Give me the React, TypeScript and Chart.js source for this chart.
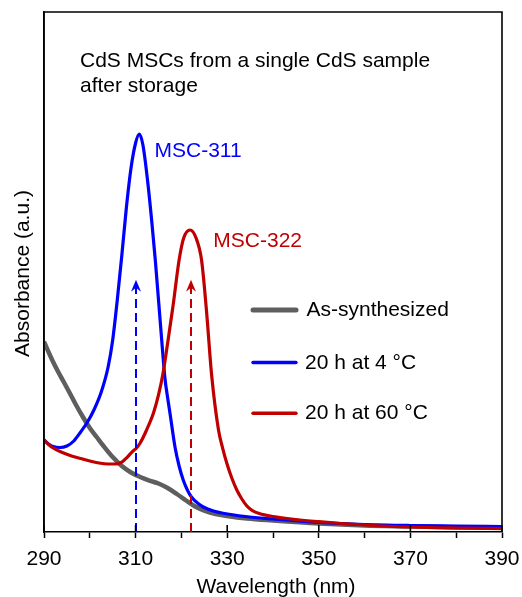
import React, { useEffect, useRef } from "react";
import { Chart, registerables } from "chart.js";

Chart.register(...registerables);

const FONT = "'Liberation Sans', Arial, Helvetica, sans-serif";

// ---- data ----
const SERIES_LABELS = ["As-synthesized", "20 h at 4 °C", "20 h at 60 °C"];
const SERIES_COLORS = ["#5e5e5e", "#0000ff", "#c00000"];
const SERIES_WIDTHS = [4.5, 3.2, 3.2];

const asSynthWl = [290, 291, 292, 293, 294.2, 295.5, 297, 298.5, 300, 301.5, 303, 305, 307, 309, 311, 313, 315, 317, 319, 321, 323, 325, 327.5, 330, 334.3, 340, 350, 360, 370, 380, 390];
const asSynthAbs = [36.6, 34.6, 32.69, 30.96, 29.04, 26.92, 24.42, 22.12, 20.0, 18.27, 16.54, 14.42, 12.69, 11.44, 10.58, 9.9, 9.33, 8.46, 7.31, 6.06, 4.9, 4.13, 3.46, 3.08, 2.6, 2.21, 1.63, 1.25, 1.06, 0.87, 0.77];

const cold4Wl = [290, 291, 292, 293.5, 295, 296.5, 298, 299.5, 301, 302.5, 304, 305, 306, 307, 308, 309, 310, 310.8, 311.6, 312.6, 313.5, 314.3, 315, 315.7, 316.4, 317, 317.5, 318.6, 319.5, 320.4, 321.3, 322.2, 323.5, 324.8, 327, 329.1, 334, 340, 350, 360, 370, 380, 390];
const cold4Abs = [17.69, 16.92, 16.44, 16.25, 16.54, 17.5, 19.23, 21.15, 23.65, 26.92, 31.73, 36.92, 44.62, 53.27, 62.5, 70.0, 74.81, 76.54, 74.42, 67.69, 60.0, 52.31, 44.62, 36.92, 29.62, 25.77, 22.88, 16.35, 12.69, 10.0, 8.08, 6.73, 5.58, 4.81, 4.04, 3.6, 2.98, 2.5, 1.83, 1.44, 1.25, 1.15, 1.06];

const warm60Wl = [290, 291, 292, 294, 296, 298, 300, 302, 304, 305.5, 307, 308.2, 309.2, 310.2, 311, 312.4, 313.9, 315, 316, 317, 318.2, 319.5, 320.5, 321.9, 323.2, 324.4, 325.5, 326.6, 328.1, 329, 329.9, 331, 332.1, 333.2, 334.3, 335.5, 337, 340, 345, 350, 355, 360, 370, 380, 390];
const warm60Abs = [17.69, 16.83, 16.15, 15.29, 14.62, 14.13, 13.65, 13.27, 13.08, 13.08, 13.46, 14.42, 15.38, 16.15, 17.12, 19.62, 22.88, 26.35, 30.58, 36.35, 43.65, 52.31, 56.54, 58.08, 56.54, 52.31, 42.31, 30.19, 19.62, 16.15, 13.27, 10.38, 8.08, 6.35, 5.0, 4.13, 3.56, 2.98, 2.4, 1.98, 1.63, 1.35, 0.96, 0.77, 0.67];

const X_LABELED_TICKS = [290, 310, 330, 350, 370, 390];
const PEAK_WL = [310, 322];
const PEAK_LABELS = ["MSC-311", "MSC-322"];
const PEAK_COLORS = ["#0000ff", "#c00000"];
const ARROW_TOP_ABS = 48.5;
const NOTE_LINES = ["CdS MSCs from a single CdS sample", "after storage"];
const X_TITLE = "Wavelength (nm)";
const Y_TITLE = "Absorbance (a.u.)";

const toPoints = (xs: number[], ys: number[]) => xs.map((x, i) => ({ x, y: ys[i] }));

const overlay = {
  id: "overlay",
  afterDatasetsDraw(chart: any) {
    const { ctx, chartArea: a, scales } = chart;
    const xs = scales.x;
    const ys = scales.y;
    ctx.save();

    // dashed arrows
    PEAK_WL.forEach((wl, i) => {
      const px = Math.round(xs.getPixelForValue(wl));
      const yt = ys.getPixelForValue(ARROW_TOP_ABS);
      ctx.strokeStyle = PEAK_COLORS[i];
      ctx.fillStyle = PEAK_COLORS[i];
      ctx.lineWidth = 2;
      ctx.setLineDash([9, 5]);
      ctx.beginPath();
      ctx.moveTo(px, a.bottom);
      ctx.lineTo(px, yt + 6);
      ctx.stroke();
      ctx.setLineDash([]);
      ctx.beginPath();
      ctx.moveTo(px, yt);
      ctx.lineTo(px - 5, yt + 12);
      ctx.lineTo(px, yt + 8);
      ctx.lineTo(px + 5, yt + 12);
      ctx.closePath();
      ctx.fill();
    });

    ctx.font = `21px ${FONT}`;
    ctx.textBaseline = "alphabetic";
    ctx.textAlign = "left";

    // peak labels
    ctx.fillStyle = PEAK_COLORS[0];
    ctx.fillText(PEAK_LABELS[0], a.left + 110.5, a.top + 144.7);
    ctx.fillStyle = PEAK_COLORS[1];
    ctx.fillText(PEAK_LABELS[1], a.left + 169.3, a.top + 235.3);

    // note
    ctx.fillStyle = "#000";
    NOTE_LINES.forEach((t, i) => ctx.fillText(t, a.left + 36, a.top + 55 + i * 25));

    // legend
    const legY = [310, 362.5, 413.3];
    const legW = [5, 3.4, 3.4];
    SERIES_LABELS.forEach((lab, i) => {
      ctx.strokeStyle = SERIES_COLORS[i];
      ctx.lineWidth = legW[i];
      ctx.lineCap = "round";
      ctx.beginPath();
      ctx.moveTo(a.left + 209, legY[i]);
      ctx.lineTo(a.left + 252, legY[i]);
      ctx.stroke();
      ctx.fillStyle = "#000";
      ctx.fillText(lab, a.left + (i === 0 ? 262.5 : 261), legY[i] + 6);
    });

    // frame
    ctx.lineCap = "butt";
    ctx.strokeStyle = "#000";
    ctx.lineWidth = 1.6;
    ctx.beginPath();
    ctx.moveTo(a.left, a.bottom);
    ctx.lineTo(a.left, a.top);
    ctx.lineTo(a.right, a.top);
    ctx.lineTo(a.right, a.bottom);
    ctx.stroke();

    // inner part of labeled ticks
    X_LABELED_TICKS.forEach((v) => {
      const px = xs.getPixelForValue(v);
      ctx.beginPath();
      ctx.moveTo(px, a.bottom);
      ctx.lineTo(px, a.bottom - 7);
      ctx.stroke();
    });

    // axis titles
    ctx.textAlign = "center";
    ctx.fillText(X_TITLE, (a.left + a.right) / 2 + 3, 593);
    ctx.save();
    ctx.translate(29, (a.top + a.bottom) / 2 + 1.5);
    ctx.rotate(-Math.PI / 2);
    ctx.fillText(Y_TITLE, 0, 0);
    ctx.restore();

    ctx.restore();
  },
};

export default function App() {
  const ref = useRef<HTMLCanvasElement | null>(null);
  useEffect(() => {
    if (!ref.current) return;
    const datasets = [
      { label: SERIES_LABELS[0], data: toPoints(asSynthWl, asSynthAbs), order: 3 },
      { label: SERIES_LABELS[1], data: toPoints(cold4Wl, cold4Abs), order: 2 },
      { label: SERIES_LABELS[2], data: toPoints(warm60Wl, warm60Abs), order: 1 },
    ].map((d, i) => ({
      ...d,
      borderColor: SERIES_COLORS[i],
      backgroundColor: SERIES_COLORS[i],
      borderWidth: SERIES_WIDTHS[i],
      borderJoinStyle: "round" as const,
      pointRadius: 0,
      fill: false,
      cubicInterpolationMode: "monotone" as const,
      tension: 0.4,
    }));
    const chart = new Chart(ref.current, {
      type: "line",
      data: { datasets },
      options: {
        animation: false,
        responsive: false,
        maintainAspectRatio: false,
        devicePixelRatio: 1,
        layout: { padding: { top: 12, right: 20, left: 0, bottom: 0 } },
        plugins: { legend: { display: false }, tooltip: { enabled: false } },
        scales: {
          x: {
            type: "linear",
            min: 290,
            max: 390,
            afterFit: (s: any) => { s.height = 65; s.paddingRight = 0; s.paddingLeft = 0; },
            ticks: {
              stepSize: 10,
              autoSkip: false,
              maxRotation: 0,
              padding: 9,
              color: "#000",
              font: { family: FONT, size: 21 },
              callback: (v: any) => (X_LABELED_TICKS.includes(Number(v)) ? String(v) : ""),
            },
            grid: { display: true, drawOnChartArea: false, drawTicks: true, tickLength: 6, tickColor: "#000", tickWidth: 1.5 },
            border: { display: true, color: "#000", width: 1.6 },
          },
          y: {
            type: "linear",
            min: 0,
            max: 100,
            afterFit: (s: any) => { s.width = 44; },
            ticks: { display: false },
            grid: { display: false, drawTicks: false },
            border: { display: true, color: "#000", width: 1.6 },
          },
        },
      },
      plugins: [overlay],
    });
    return () => chart.destroy();
  }, []);
  return (
    <div style={{ position: "fixed", left: 0, top: 0, width: 522, height: 597, background: "#fff" }}>
      <canvas ref={ref} width={522} height={597} style={{ width: 522, height: 597, display: "block" }} />
    </div>
  );
}
